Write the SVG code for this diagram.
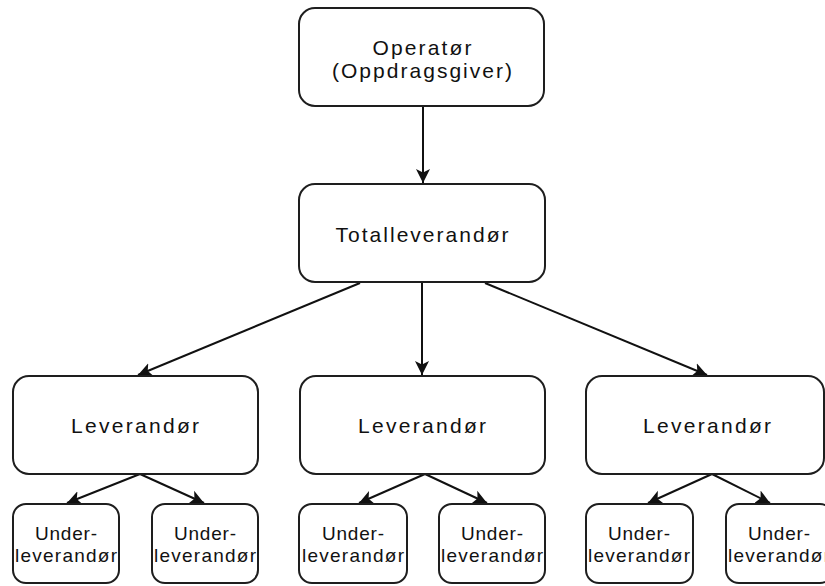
<svg xmlns="http://www.w3.org/2000/svg" width="825" height="586" viewBox="0 0 825 586">
<style>
.box{fill:#fff;stroke:#1e1e1e;stroke-width:2}
.t{font-family:"Liberation Sans",Arial,sans-serif;font-size:21px;fill:#111;text-anchor:middle}
.s{font-family:"Liberation Sans",Arial,sans-serif;font-size:19px;fill:#111;text-anchor:middle}
.c{stroke:#111;stroke-width:2;fill:none;marker-end:url(#ah)}
</style>
<defs>
<marker id="ah" markerUnits="userSpaceOnUse" markerWidth="16" markerHeight="16" refX="14" refY="8" orient="auto">
<path d="M0,1 L14,8 L0,15 L3.5,8 z" fill="#111"/>
</marker>
</defs>
<rect width="825" height="586" fill="#fff"/>
<g id="connectors">
<line class="c" x1="423" y1="107" x2="423" y2="183"/>
<line class="c" x1="360" y1="283" x2="138" y2="375"/>
<line class="c" x1="422" y1="283" x2="422" y2="375"/>
<line class="c" x1="485" y1="283" x2="707" y2="375"/>
<line class="c" x1="140" y1="474" x2="67" y2="503"/>
<line class="c" x1="140" y1="474" x2="204" y2="503"/>
<line class="c" x1="425" y1="474" x2="359" y2="503"/>
<line class="c" x1="425" y1="474" x2="487" y2="503"/>
<line class="c" x1="712" y1="474" x2="648" y2="503"/>
<line class="c" x1="712" y1="474" x2="770" y2="503"/>
</g>
<g id="operator">
<rect class="box" x="299" y="8" width="245" height="98" rx="16"/>
<text class="t" x="422" y="55" textLength="99" lengthAdjust="spacing">Operatør</text>
<text class="t" x="422" y="78" textLength="180" lengthAdjust="spacing">(Oppdragsgiver)</text>
</g>
<g id="totalleverandor">
<rect class="box" x="299" y="184" width="246" height="98" rx="16"/>
<text class="t" x="422" y="242" textLength="173" lengthAdjust="spacing">Totalleverandør</text>
</g>
<g id="leverandor1">
<rect class="box" x="13" y="376" width="245" height="98" rx="16"/>
<text class="t" x="135" y="433" textLength="128" lengthAdjust="spacing">Leverandør</text>
</g>
<g id="leverandor2">
<rect class="box" x="300" y="376" width="245" height="98" rx="16"/>
<text class="t" x="422" y="433" textLength="128" lengthAdjust="spacing">Leverandør</text>
</g>
<g id="leverandor3">
<rect class="box" x="586" y="376" width="238" height="98" rx="16"/>
<text class="t" x="707" y="433" textLength="128" lengthAdjust="spacing">Leverandør</text>
</g>
<g id="under1">
<rect class="box" x="13" y="504" width="106" height="79" rx="13"/>
<text class="s" x="66" y="540" textLength="62" lengthAdjust="spacing">Under-</text>
<text class="s" x="66" y="562" textLength="102" lengthAdjust="spacing">leverandør</text>
</g>
<g id="under2">
<rect class="box" x="152" y="504" width="106" height="79" rx="13"/>
<text class="s" x="205" y="540" textLength="62" lengthAdjust="spacing">Under-</text>
<text class="s" x="205" y="562" textLength="102" lengthAdjust="spacing">leverandør</text>
</g>
<g id="under3">
<rect class="box" x="299" y="504" width="108" height="79" rx="13"/>
<text class="s" x="353" y="540" textLength="62" lengthAdjust="spacing">Under-</text>
<text class="s" x="353" y="562" textLength="102" lengthAdjust="spacing">leverandør</text>
</g>
<g id="under4">
<rect class="box" x="439" y="504" width="106" height="79" rx="13"/>
<text class="s" x="492" y="540" textLength="62" lengthAdjust="spacing">Under-</text>
<text class="s" x="492" y="562" textLength="102" lengthAdjust="spacing">leverandør</text>
</g>
<g id="under5">
<rect class="box" x="586" y="504" width="107" height="79" rx="13"/>
<text class="s" x="639" y="540" textLength="62" lengthAdjust="spacing">Under-</text>
<text class="s" x="639" y="562" textLength="102" lengthAdjust="spacing">leverandør</text>
</g>
<g id="under6">
<rect class="box" x="726" y="504" width="107" height="79" rx="13"/>
<text class="s" x="779" y="540" textLength="62" lengthAdjust="spacing">Under-</text>
<text class="s" x="779" y="562" textLength="102" lengthAdjust="spacing">leverandør</text>
</g>
</svg>
